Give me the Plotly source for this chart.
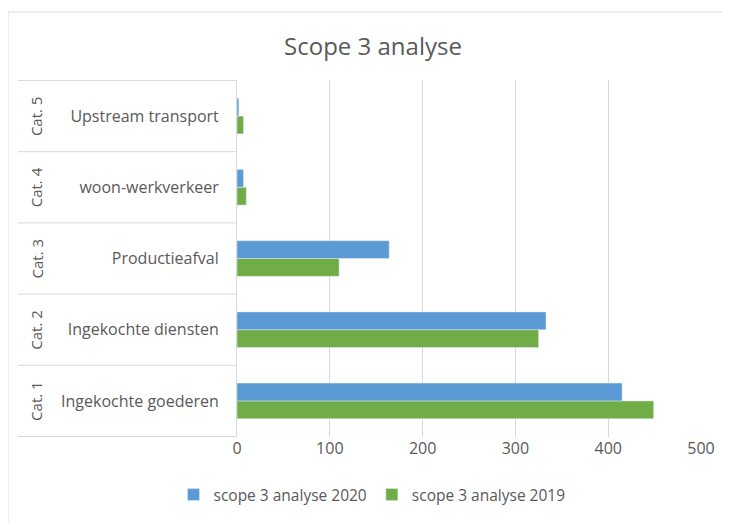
import plotly.graph_objects as go

categories = ["Ingekochte goederen", "Ingekochte diensten", "Productieafval",
              "woon-werkverkeer", "Upstream transport"]
groups = ["Cat. 1", "Cat. 2", "Cat. 3", "Cat. 4", "Cat. 5"]
values_2020 = [415, 333, 164, 7, 2]
values_2019 = [449, 325, 110, 10, 7]
x_ticks = [0, 100, 200, 300, 400, 500]

FONT = "Open Sans"
GREY = "#595959"
LINE = "#D9D9D9"

# page body has an 8px default margin; lay out in page pixels minus 8
OFF = 8
W, H = 730 - OFF, 522 - OFF
L = 237 - OFF
R = W - (701 - OFF)
T = 80 - OFF
B = H - (437 - OFF)
pw = W - L - R
ph = H - T - B

def px_x(p):
    return (p - OFF - L) / pw

def px_y(p):
    return (H - B - (p - OFF)) / ph

fig = go.Figure()
fig.add_trace(go.Bar(y=categories, x=values_2019, orientation="h",
                     name="scope 3 analyse 2019", marker_color="#70AD47",
                     legendrank=2))
fig.add_trace(go.Bar(y=categories, x=values_2020, orientation="h",
                     name="scope 3 analyse 2020", marker_color="#5B9BD5",
                     legendrank=1))

shapes = []
shapes.append(dict(type="rect", xref="paper", yref="paper",
                   x0=px_x(8), x1=px_x(760), y0=px_y(560), y1=px_y(12),
                   line=dict(color=LINE, width=1), layer="below"))
for i in range(len(categories) + 1):
    shapes.append(dict(type="line", xref="paper", yref="y",
                       x0=px_x(18), x1=0, y0=i - 0.5, y1=i - 0.5,
                       line=dict(color=LINE, width=1)))

annotations = []
for i, g in enumerate(groups):
    annotations.append(dict(text=g, xref="paper", yref="y", x=px_x(36), y=i,
                            xanchor="center", yanchor="middle", textangle=-90,
                            showarrow=False,
                            font=dict(family=FONT, size=15, color=GREY)))

fig.update_layout(
    width=W, height=H,
    margin=dict(l=L, r=R, t=T, b=B),
    paper_bgcolor="white", plot_bgcolor="white",
    barmode="group", bargap=0.5, bargroupgap=0,
    title=dict(text="Scope 3 analyse", x=(373 - OFF) / W, xref="container",
               xanchor="center", y=1 - (47 - OFF) / H, yref="container",
               yanchor="middle",
               font=dict(family=FONT, size=24, color=GREY)),
    legend=dict(orientation="h", x=(372 - OFF) / W, xref="container",
                xanchor="center", y=1 - (495 - OFF) / H, yref="container",
                yanchor="middle", itemwidth=30,
                font=dict(family=FONT, size=15.5, color=GREY)),
    shapes=shapes, annotations=annotations,
    xaxis=dict(range=[0, 500], tickvals=x_ticks, showgrid=True, gridcolor=LINE,
               zeroline=False, showline=False, ticks="",
               tickfont=dict(family=FONT, size=16, color=GREY), fixedrange=True),
    yaxis=dict(categoryorder="array", categoryarray=categories,
               showgrid=False, zeroline=False, showline=True, linecolor=LINE,
               ticks="", ticklabelstandoff=14,
               tickfont=dict(family=FONT, size=16, color=GREY)),
)

fig.write_html("out.html")
